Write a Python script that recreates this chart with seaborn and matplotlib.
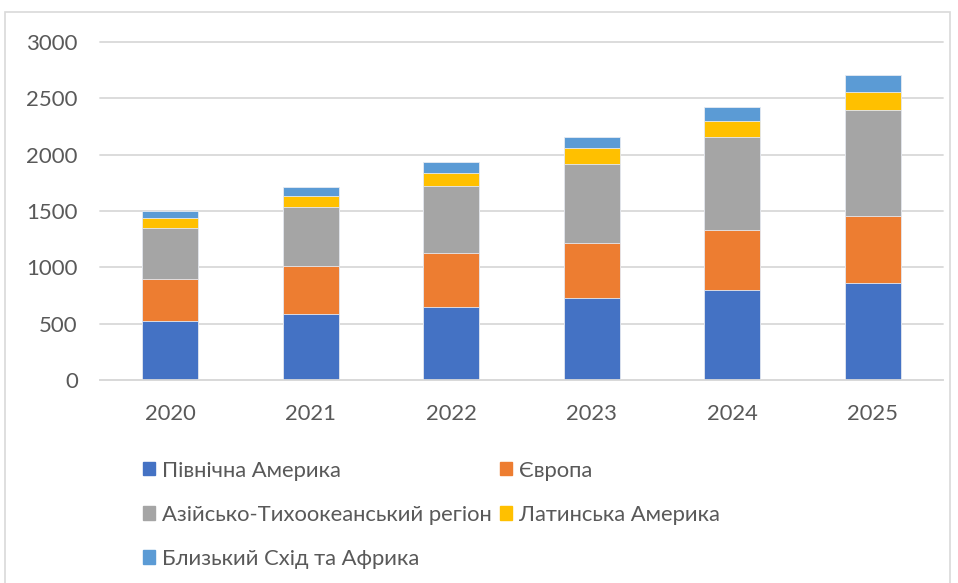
import numpy as np
import pandas as pd
import matplotlib
matplotlib.use('Agg')
import matplotlib.pyplot as plt
import matplotlib.patches as mpatches
import seaborn as sb

years = ['2020', '2021', '2022', '2023', '2024', '2025']
regions = ['Північна Америка', 'Європа', 'Азійсько-Тихоокеанський регіон',
           'Латинська Америка', 'Близький Схід та Африка']
north_america = [520, 590, 650, 725, 795, 865]
europe = [380, 420, 475, 490, 535, 590]
asia_pacific = [450, 525, 600, 705, 825, 945]
latin_america = [90, 100, 110, 135, 145, 160]
middle_east = [60, 75, 100, 105, 125, 150]
colors = ['#4472C4', '#ED7D31', '#A5A5A5', '#FFC000', '#5B9BD5']

series = [north_america, europe, asia_pacific, latin_america, middle_east]
cum = np.cumsum(np.array(series), axis=0)

sb.set_style('white')
plt.rcParams['font.family'] = ['Lato', 'DejaVu Sans']
txt = '#595959'

fig = plt.figure(figsize=(9.58, 5.83), dpi=100)
ax = fig.add_axes([0.1044, 0.3482, 0.8799, 0.5798])

# stacked bars: draw cumulative totals from the top down
for i in range(len(regions) - 1, -1, -1):
    df = pd.DataFrame({'year': years, 'value': cum[i]})
    sb.barplot(data=df, x='year', y='value', color=colors[i], width=0.4,
               saturation=1, edgecolor='#e6eaf2', linewidth=0.6, ax=ax)

ax.set_ylim(0, 3000)
ax.set_yticks(range(0, 3001, 500))
ax.yaxis.grid(True, color='#d9d9d9', linewidth=1.3, clip_on=False)
ax.set_axisbelow(True)
for s in ['top', 'right', 'left']:
    ax.spines[s].set_visible(False)
ax.spines['bottom'].set_color('#d9d9d9')
ax.spines['bottom'].set_linewidth(1.3)
ax.set_xlabel('')
ax.set_ylabel('')
ax.tick_params(axis='y', length=0, pad=16, labelsize=16, labelcolor=txt)
ax.tick_params(axis='x', length=0, pad=17, labelsize=15.8, labelcolor=txt)

handles = [mpatches.Patch(color=c, label=r) for c, r in zip(colors, regions)]
order = [0, 2, 4, 1, 3]
fig.legend([handles[k] for k in order], [regions[k] for k in order],
           loc='upper left', bbox_to_anchor=(0.1493, 0.21), ncol=2,
           frameon=False, fontsize=15.8, labelcolor=txt,
           handlelength=0.55, handleheight=0.55, handletextpad=0.32,
           labelspacing=1.1, columnspacing=0.35, borderaxespad=0, borderpad=0)

fig.patches.append(mpatches.Rectangle((5 / 958, -0.01), 945 / 958, 1 - 12 / 583 + 0.01,
                                      transform=fig.transFigure, fill=False,
                                      edgecolor='#d9d9d9', linewidth=1.2))

fig.savefig('out.png', dpi=100)
